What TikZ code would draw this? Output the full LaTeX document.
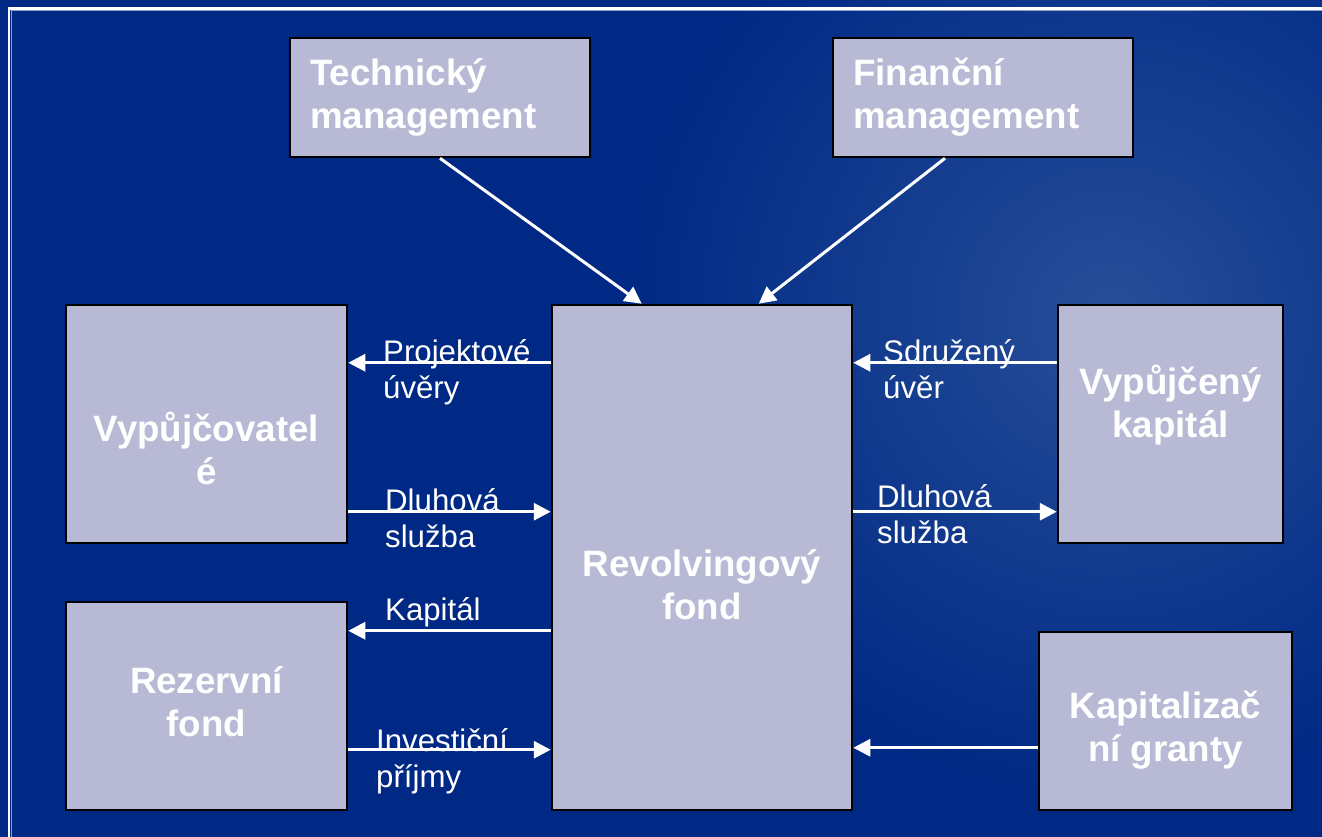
\documentclass[tikz,border=0pt]{standalone}
\usepackage{fontspec}
\setmainfont{Liberation Sans}
\usetikzlibrary{arrows.meta,calc}
\definecolor{bgblue}{RGB}{0,41,133}
\definecolor{bglight}{RGB}{38,78,152}
\definecolor{boxfill}{RGB}{184,185,212}
\definecolor{framepale}{RGB}{140,160,205}
\begin{document}
\begin{tikzpicture}[x=1pt,y=1pt,
  box/.style={draw=black,line width=2.5pt,fill=boxfill,inner sep=0pt},
  boxtext/.style={text=white,font=\fontsize{36.7}{42.5}\selectfont\bfseries,inner sep=0pt,align=center},
  boxtextl/.style={boxtext,align=left,anchor=west},
  lbl/.style={text=white,font=\fontsize{31.2}{36}\selectfont,inner sep=0pt,align=left,anchor=west},
  arr/.style={draw=white,line width=3pt,-{Triangle[length=17pt,width=17pt]}}]
\useasboundingbox (0,0) rectangle (1322,836);
\clip (0,0) rectangle (1322,836);
% background
\fill[bgblue] (-5,-5) rectangle (1327,841);
\shade[inner color=bglight,outer color=bgblue] (1110,520) circle (480);
% frame
\draw[white,line width=2.5pt] (1330,827.5) -- (9,827.5) -- (9,-10);
\draw[framepale,line width=1pt] (1330,825) -- (11.5,825) -- (11.5,-10);
% boxes
\node[box,minimum width=300,minimum height=119] (tech) at (440,738.5) {};
\node[box,minimum width=300,minimum height=119] (fin) at (983,738.5) {};
\node[box,minimum width=281,minimum height=238] (vyp) at (206.5,412) {};
\node[box,minimum width=300,minimum height=505] (rev) at (702,278.5) {};
\node[box,minimum width=225,minimum height=238] (vk) at (1170.5,412) {};
\node[box,minimum width=281,minimum height=208] (rez) at (206.5,130) {};
\node[box,minimum width=253,minimum height=178] (kg) at (1165.5,115) {};
% box texts
\node[boxtextl] (techt) at (310,737.3) {\strut Technický\\management\strut};
\node[boxtextl] (fint) at (853,737.3) {\strut Finanční\\management\strut};
\node[boxtext] (vypt) at (206.5,381.3) {\strut Vypůjčovatel\\é\strut};
\node[boxtext] (vkt) at (1170.5,428.3) {\strut Vypůjčený\\kapitál\strut};
\node[boxtext] (revt) at (702,246.3) {\strut Revolvingový\\fond\strut};
\node[boxtext] (rezt) at (206.5,129.3) {\strut Rezervní\\fond\strut};
\node[boxtext] (kgt) at (1165.5,104.3) {\strut Kapitalizač\\ní granty\strut};
% connectors
\draw[arr] (tech.south) -- ([xshift=91pt]rev.north west);
\draw[arr] ([xshift=-38pt]fin.south) -- ([xshift=208pt]rev.north west);
\draw[arr] ([yshift=-59pt]rev.north west) -- ([yshift=-59pt]vyp.north east);
\draw[arr] ([yshift=-208pt]vyp.north east) -- ([yshift=-208pt]rev.north west);
\draw[arr] ([yshift=-327pt]rev.north west) -- ([yshift=-30pt]rez.north east);
\draw[arr] ([yshift=-149pt]rez.north east) -- ([yshift=-446pt]rev.north west);
\draw[arr] ([yshift=-59pt]vk.north west) -- ([yshift=-59pt]rev.north east);
\draw[arr] ([yshift=-208pt]rev.north east) -- ([yshift=-208pt]vk.north west);
\draw[arr] ([yshift=-117pt]kg.north west) -- ([yshift=-444pt]rev.north east);
% labels
\node[lbl] (l1) at (383,462.2) {\strut Projektové\\úvěry\strut};
\node[lbl] (l2) at (385,313.2) {\strut Dluhová\\služba\strut};
\node[lbl] (l3) at (385,223.2) {\strut Kapitál\strut};
\node[lbl] (l4) at (376,74.2) {\strut Investiční\\příjmy\strut};
\node[lbl] (l5) at (883,462.2) {\strut Sdružený\\úvěr\strut};
\node[lbl] (l6) at (877,317.2) {\strut Dluhová\\služba\strut};
\end{tikzpicture}
\end{document}
